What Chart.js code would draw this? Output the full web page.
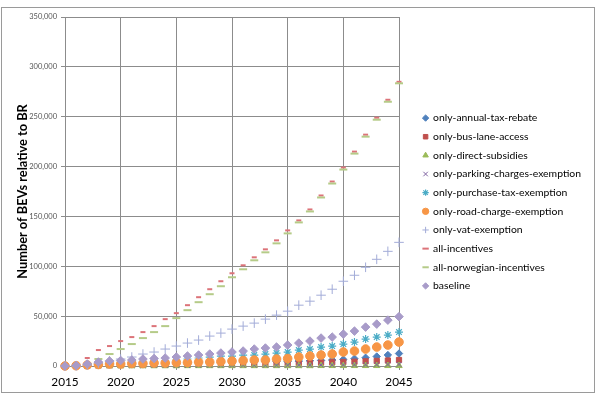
<!DOCTYPE html>
<html>
<head>
<meta charset="utf-8">
<script src="https://cdn.jsdelivr.net/npm/chart.js@4.4.1/dist/chart.umd.min.js"></script>
<style>
  body { margin: 0; background: #fff; }
</style>
</head>
<body>
<canvas id="bevChart" width="596" height="396"></canvas>
<script>
var years = [2015, 2016, 2017, 2018, 2019, 2020, 2021, 2022, 2023, 2024, 2025,
             2026, 2027, 2028, 2029, 2030, 2031, 2032, 2033, 2034, 2035,
             2036, 2037, 2038, 2039, 2040, 2041, 2042, 2043, 2044, 2045];

var annualTaxRebate = [0, 200, 800, 1500, 1800, 2000, 2200, 2400, 2600, 2800, 3000,
                       3200, 3400, 3600, 3800, 4000, 4100, 4200, 4300, 4400, 4600,
                       4900, 5200, 5600, 6000, 6500, 7300, 8300, 9500, 11000, 12500];
var busLaneAccess = [0, 100, 400, 700, 900, 1000, 1100, 1200, 1300, 1400, 1500,
                     1600, 1700, 1800, 1900, 2000, 2100, 2200, 2300, 2500, 2700,
                     2900, 3100, 3400, 3700, 4000, 4300, 4700, 5100, 5500, 6000];
var directSubsidies = [0, 0, 100, 100, 100, 100, 100, 100, 100, 100, 100,
                       200, 200, 200, 200, 200, 200, 200, 200, 200, 200,
                       200, 200, 300, 300, 300, 300, 300, 300, 300, 300];
var parkingExemption = [0, 100, 200, 300, 300, 400, 400, 400, 500, 500, 500,
                        500, 600, 600, 600, 600, 700, 700, 700, 800, 800,
                        900, 900, 1000, 1000, 1100, 1200, 1300, 1400, 1500, 1600];
var purchaseTaxExemption = [0, 300, 1000, 2000, 2500, 3000, 3500, 4000, 4500, 5000, 6000,
                            7000, 8000, 9000, 10000, 10000, 11000, 11000, 12000, 13000, 14000,
                            16000, 17000, 19000, 20000, 22000, 24000, 27000, 29000, 31000, 34000];
var roadChargeExemption = [0, 300, 1000, 1500, 2000, 2000, 2500, 2500, 3000, 3000, 3500,
                           3500, 4000, 4000, 4500, 5000, 5500, 6000, 6000, 7000, 7500,
                           9000, 10000, 11000, 12000, 14000, 15000, 17000, 19000, 21000, 24000];
var vatExemption = [0, 0, 1000, 3000, 5000, 7000, 9000, 12000, 14000, 17000, 20000,
                    23000, 26000, 30000, 33000, 37000, 40000, 43000, 47000, 51000, 55000,
                    61000, 65000, 71000, 77000, 85000, 91000, 99000, 107000, 115000, 124000];
var allIncentives = [0, 0, 8000, 16000, 20000, 25000, 29000, 34000, 40000, 47000, 53000,
                     61000, 69000, 77000, 85000, 93000, 101000, 109000, 117000, 126000, 136000,
                     146000, 157000, 171000, 185000, 199000, 215000, 232000, 249000, 267000, 285000];
var allNorwegian = [0, 0, 2000, 7000, 12000, 17000, 22000, 28000, 34000, 40000, 48000,
                    56000, 64000, 72000, 80000, 89000, 97000, 106000, 114000, 123000, 133000,
                    144000, 155000, 169000, 183000, 197000, 213000, 230000, 247000, 265000, 283500];
var baseline = [0, 500, 2000, 4000, 5000, 5500, 6000, 7000, 7500, 8000, 9000,
                10000, 11000, 12000, 13000, 14000, 15000, 17000, 18000, 19000, 21000,
                23000, 25000, 28000, 29000, 32000, 35000, 39000, 42000, 46000, 49500];

var seriesNames = ['only-annual-tax-rebate', 'only-bus-lane-access', 'only-direct-subsidies',
                   'only-parking-charges-exemption', 'only-purchase-tax-exemption',
                   'only-road-charge-exemption', 'only-vat-exemption', 'all-incentives',
                   'all-norwegian-incentives', 'baseline'];
var seriesValues = [annualTaxRebate, busLaneAccess, directSubsidies, parkingExemption,
                    purchaseTaxExemption, roadChargeExemption, vatExemption,
                    allIncentives, allNorwegian, baseline];

// marker look per series: [colour, pointStyle, radius, borderWidth]
var markerLook = [
    ['#4F81BD', 'rectRot', 3.7, 1],
    ['#C0504D', 'rect', 3.7, 1],
    ['#9BBB59', 'triangle', 3.7, 1],
    ['#8064A2', 'crossRot', 3.5, 1],
    ['#4BACC6', 'star', 4, 1.2],
    ['#F79646', 'circle', 4.3, 1],
    ['#A3ACD8', 'cross', 4.8, 1],
    ['#DC7379', 'line', 2.5, 2],
    ['#B5CB88', 'line', 4, 2],
    ['#A89BC9', 'rectRot', 4.3, 1]
];

var datasets = seriesNames.map(function(name, i) {
    var look = markerLook[i];
    return {
        label: name,
        data: years.map(function(y, k) { return {x: y, y: seriesValues[i][k]}; }),
        showLine: false,
        backgroundColor: look[0],
        borderColor: look[0],
        pointStyle: look[1],
        pointRadius: look[2],
        pointBorderWidth: look[3],
        order: seriesNames.length - i, // later series on top, like Excel
        clip: false
    };
});

var FONT = 'Lato, "Open Sans", sans-serif';
var PAD_RIGHT = 5;
var PLOT_RIGHT = 399;

var frame = {
    id: 'frame',
    beforeDraw: function(chart) {
        var c = chart.ctx;
        c.save();
        c.fillStyle = '#fff';
        c.fillRect(0, 0, chart.width, chart.height);
        c.strokeStyle = '#9a9a9a';
        c.lineWidth = 1;
        c.strokeRect(1.5, 7.5, chart.width - 3, chart.height - 11);
        c.restore();
    }
};

var ctx = document.getElementById('bevChart').getContext('2d');
var chart = new Chart(ctx, {
    type: 'scatter',
    data: { datasets: datasets },
    options: {
        responsive: false,
        animation: false,
        layout: { padding: { top: 17, left: 0, right: PAD_RIGHT, bottom: 9 } },
        scales: {
            x: {
                type: 'linear',
                min: 2015,
                max: 2045,
                ticks: {
                    stepSize: 5,
                    color: '#000',
                    padding: 5,
                    font: { family: FONT, size: 11.8 },
                    callback: function(v) { return String(v); }
                },
                grid: { color: '#8c8c8c', tickLength: 4 },
                border: { color: '#8c8c8c' },
                afterFit: function(s) { s.height = 21; }
            },
            y: {
                min: 0,
                max: 350000,
                ticks: {
                    stepSize: 50000,
                    color: '#555',
                    padding: 4,
                    font: { family: FONT, size: 7.5 },
                    callback: function(v) { return v.toLocaleString('en-US'); }
                },
                grid: { color: '#8c8c8c', tickLength: 4 },
                border: { color: '#8c8c8c' },
                title: {
                    display: true,
                    text: 'Number of BEVs relative to BR',
                    color: '#000',
                    font: { family: FONT, size: 12.8, weight: 'bold' },
                    padding: { top: 15, bottom: 0 }
                },
                afterFit: function(s) { s.width = 65; }
            },
            spacer: {
                type: 'linear',
                position: 'right',
                display: true,
                ticks: { display: false },
                grid: { display: false },
                border: { display: false },
                afterFit: function(s) {
                    var legendLeft = s.chart.width - PAD_RIGHT - s.chart.legend.width;
                    s.width = Math.max(0, legendLeft - PLOT_RIGHT);
                }
            }
        },
        plugins: {
            legend: {
                position: 'right',
                maxWidth: 300,
                labels: {
                    usePointStyle: true,
                    boxWidth: 4.5,
                    boxHeight: 4.5,
                    padding: 8.25,
                    color: '#000',
                    font: { family: FONT, size: 10.4 },
                    sort: function(a, b) { return a.datasetIndex - b.datasetIndex; }
                }
            },
            title: { display: false },
            tooltip: { enabled: false }
        }
    },
    plugins: [frame]
});
</script>
</body>
</html>
